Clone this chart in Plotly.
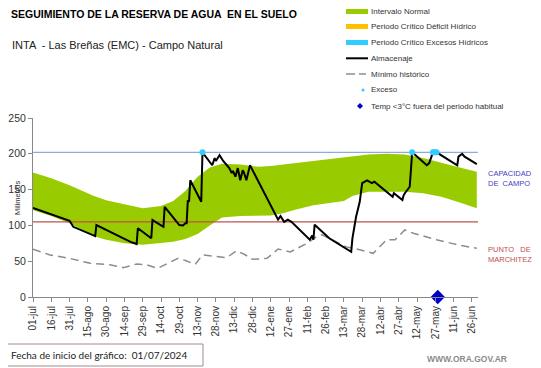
import pandas as pd
import plotly.graph_objects as go

# ---------------- DATA ----------------
fecha_inicio = "2024-07-01"

# Intervalo normal (banda verde): dias desde el inicio, limite superior e inferior (mm)
banda_dias = [0, 15, 30, 45, 50, 60, 75, 90, 105, 115, 125, 135, 145, 155, 170, 185, 195,
              205, 215, 230, 245, 255, 262, 275, 290, 305, 320, 335, 350, 364]
banda_sup = [174, 166, 156, 144, 141, 135, 129, 124, 127, 134, 148, 168, 181, 186, 185, 182, 183,
             185, 187, 190, 194, 196, 197, 199, 200, 199, 194, 187, 181, 175]
banda_inf = [121, 113, 103, 89, 85, 80, 75, 73, 75, 77, 81, 88, 100, 111, 113, 113, 114,
             117, 122, 128, 131, 134, 141, 147, 147, 147, 145, 140, 132, 124]

# Almacenaje (mm)
alm_dias = [0, 30, 33, 51, 52, 80, 85, 86, 97, 98, 107, 108, 120, 123, 125, 126, 127, 128, 129,
            138, 139, 144, 147, 149, 150, 153, 156, 159, 161, 163, 164, 166, 168, 170, 172, 173,
            175, 178, 201, 203, 206, 209, 212, 227, 229, 230, 231, 243, 261, 262, 265, 268, 270,
            274, 278, 280, 295, 296, 303, 304, 305, 309, 311, 323, 325, 328, 331, 348, 349,
            352, 354, 364]
alm_val = [124.5, 106.5, 98, 85, 100.5, 77, 74, 96, 82, 107.5, 98, 126, 100.5, 100, 103, 103, 135, 133, 163,
           133, 202, 191, 184, 194, 190, 198, 190, 184, 180, 173, 176, 168, 180, 163, 177, 174,
           163, 184, 108, 113, 105, 108, 105, 80, 86, 80, 101, 82, 63, 82, 112, 133, 159,
           163, 159, 161, 140, 145, 135.5, 142, 145, 154, 202, 184, 187, 202, 202, 184, 196,
           200, 196, 185.5]

# Minimo historico (mm)
min_dias = [0, 14, 30, 47, 63, 74, 85, 93, 102, 119, 125, 133, 139, 151, 159, 167, 174, 180,
            192, 201, 211, 225, 233, 237, 245, 257, 268, 279, 290, 297, 305, 312, 331, 348, 364]
min_val = [66.6, 58.7, 54, 47, 45, 41, 46, 45, 40, 54, 51, 45.5, 58.7, 57, 55, 64.7, 59, 52.6,
           54, 67, 63, 75, 85, 87, 80, 70, 66, 61, 80, 80, 93.6, 89, 80, 73, 68]

# Excesos (puntos celestes) y temperatura < 3 C fuera del periodo habitual
exceso_dias = [139, 311, 328, 329, 330, 331]
exceso_val = [202, 202, 202, 202, 202, 202]
temp_dias = [332]
temp_val = [0]

capacidad_campo = 202
punto_marchitez = 105

tick_dias = list(range(0, 361, 15))
tick_textos = ["01-jul", "16-jul", "31-jul", "15-ago", "30-ago", "14-sep", "29-sep", "14-oct",
               "29-oct", "13-nov", "28-nov", "13-dic", "28-dic", "12-ene", "27-ene", "11-feb",
               "26-feb", "13-mar", "28-mar", "12-abr", "27-abr", "12-may", "27-may", "11-jun",
               "26-jun"]

# ---------------- HELPERS ----------------
t0 = pd.Timestamp(fecha_inicio)
def fechas(d):
    return [t0 + pd.Timedelta(days=int(x)) for x in d]

# page offset (body margin) of 8 px
OFF = 8
W, H = 541 - OFF, 368 - OFF
PL, PT, PR, PB = 33, 118, 478, 297          # plot area in page pixels
L, T, R, B = PL - OFF, PT - OFF, 541 - PR, 368 - PB
PW, PH = PR - PL, PB - PT
def px(x):
    return (x - PL) / PW
def py(y):
    return (PB - y) / PH

x_ini = t0
x_fin = t0 + pd.Timedelta(days=365)

VERDE = "#99CC00"
CELESTE = "#33CCFF"
NARANJA = "#FFC000"
GRIS = "#8C8C8C"

fig = go.Figure()

# Banda verde
fig.add_trace(go.Scatter(x=fechas(banda_dias), y=banda_inf, mode="lines",
                         line=dict(width=0, color=VERDE), showlegend=False, hoverinfo="skip"))
fig.add_trace(go.Scatter(x=fechas(banda_dias), y=banda_sup, mode="lines", fill="tonexty",
                         fillcolor=VERDE, line=dict(width=0, color=VERDE), showlegend=False))

# Capacidad de campo y punto de marchitez
fig.add_trace(go.Scatter(x=[x_ini, x_fin], y=[capacidad_campo] * 2, mode="lines",
                         line=dict(color="#8EA9DB", width=1.2), showlegend=False))
fig.add_trace(go.Scatter(x=[x_ini, x_fin], y=[punto_marchitez] * 2, mode="lines",
                         line=dict(color="#C0504D", width=1.2), showlegend=False))

# Minimo historico
fig.add_trace(go.Scatter(x=fechas(min_dias), y=min_val, mode="lines",
                         line=dict(color=GRIS, width=1.5, dash="8px,5px"), showlegend=False))

# Almacenaje
fig.add_trace(go.Scatter(x=fechas(alm_dias), y=alm_val, mode="lines",
                         line=dict(color="black", width=2), showlegend=False))

# Excesos
fig.add_trace(go.Scatter(x=fechas(exceso_dias), y=exceso_val, mode="markers",
                         marker=dict(color=CELESTE, size=6), showlegend=False))

# Temperatura
fig.add_trace(go.Scatter(x=fechas(temp_dias), y=temp_val, mode="markers", cliponaxis=False,
                         marker=dict(color="#0000CC", size=11, symbol="diamond"), showlegend=False))

# ---------------- LEGEND (manual) ----------------
shapes = []
ann = []
leg_x0, leg_x1, leg_tx = 346, 368, 369
rows = [11.5, 26.5, 42.5, 58.3, 74, 90, 106]
labels = ["Intervalo Normal", "Periodo Crítico Déficit Hídrico", "Periodo Crítico Excesos Hídricos",
          "Almacenaje", "Mínimo histórico", "Exceso", "Temp <3°C fuera del periodo habitual"]
for i, (color, width) in enumerate([(VERDE, 5), (NARANJA, 5), (CELESTE, 5), ("black", 2)]):
    shapes.append(dict(type="line", xref="paper", yref="paper", x0=px(leg_x0), x1=px(leg_x1),
                       y0=py(rows[i]), y1=py(rows[i]), line=dict(color=color, width=width)))
shapes.append(dict(type="line", xref="paper", yref="paper", x0=px(346), x1=px(355),
                   y0=py(rows[4]), y1=py(rows[4]), line=dict(color=GRIS, width=1.5)))
shapes.append(dict(type="line", xref="paper", yref="paper", x0=px(359), x1=px(366),
                   y0=py(rows[4]), y1=py(rows[4]), line=dict(color=GRIS, width=1.5)))
shapes.append(dict(type="circle", xref="paper", yref="paper", x0=px(361.5), x1=px(364.5),
                   y0=py(rows[5] + 1.5), y1=py(rows[5] - 1.5), line=dict(width=0), fillcolor=CELESTE))
shapes.append(dict(type="path", xref="paper", yref="paper",
                   path="M {} {} L {} {} L {} {} L {} {} Z".format(
                       px(360), py(rows[6] - 3), px(363), py(rows[6]),
                       px(360), py(rows[6] + 3), px(357), py(rows[6])),
                   line=dict(width=0), fillcolor="#0000CC"))
for i, lab in enumerate(labels):
    ann.append(dict(text=lab, xref="paper", yref="paper", x=px(leg_tx), y=py(rows[i]),
                    xanchor="left", yanchor="middle", showarrow=False,
                    font=dict(family="Arial", size=8, color="#333333")))

# Titles
ann.append(dict(text="<b>SEGUIMIENTO DE LA RESERVA DE AGUA  EN EL SUELO</b>", xref="paper", yref="paper",
                x=px(9), y=py(14), xanchor="left", yanchor="middle", showarrow=False,
                font=dict(family="Arial", size=10.5, color="#000000")))
ann.append(dict(text="INTA  - Las Breñas (EMC) - Campo Natural", xref="paper", yref="paper",
                x=px(10), y=py(45), xanchor="left", yanchor="middle", showarrow=False,
                font=dict(family="Arial", size=11, color="#222222")))

# Right-side labels
ann.append(dict(text="CAPACIDAD<br>DE  CAMPO", xref="paper", yref="paper", x=px(486), y=py(178),
                xanchor="left", yanchor="middle", align="left", showarrow=False,
                font=dict(family="Arial", size=7.5, color="#3F3FBF")))
ann.append(dict(text="PUNTO   DE<br>MARCHITEZ", xref="paper", yref="paper", x=px(486), y=py(254),
                xanchor="left", yanchor="middle", align="left", showarrow=False,
                font=dict(family="Arial", size=7.5, color="#C0504D")))

# Footer
shapes.append(dict(type="rect", xref="paper", yref="paper", x0=px(3), x1=px(203),
                   y0=py(344), y1=py(366), line=dict(color="#A08C8C", width=1)))
ann.append(dict(text="Fecha de inicio del gráfico:  01/07/2024", xref="paper", yref="paper",
                x=px(9), y=py(355), xanchor="left", yanchor="middle", showarrow=False,
                font=dict(family="Lato", size=10, color="#222222")))
ann.append(dict(text="<b>WWW.ORA.GOV.AR</b>", xref="paper", yref="paper",
                x=px(425), y=py(359), xanchor="left", yanchor="middle", showarrow=False,
                font=dict(family="Arial", size=8.5, color="#8C8C8C")))

# Y axis title
ann.append(dict(text="Milimetros", xref="paper", yref="paper", x=px(17), y=py(198),
                xanchor="center", yanchor="middle", textangle=-90, showarrow=False,
                font=dict(family="Arial", size=7.5, color="#333333")))

fig.update_layout(
    width=W, height=H, margin=dict(l=L, r=R, t=T, b=B, autoexpand=False),
    paper_bgcolor="white", plot_bgcolor="white", showlegend=False,
    shapes=shapes, annotations=ann,
    xaxis=dict(type="date", range=[x_ini, x_fin], tickvals=fechas(tick_dias), ticktext=tick_textos,
               tickangle=-90, tickfont=dict(family="Arial", size=10, color="#333333"),
               showgrid=False, zeroline=False, showline=True, linecolor="#888888", linewidth=1,
               ticks="outside", ticklen=4, tickcolor="#888888"),
    yaxis=dict(range=[0, 250], tickvals=[0, 50, 100, 150, 200, 250],
               tickfont=dict(family="Arial", size=10.5, color="#333333"),
               showgrid=False, zeroline=False, showline=True, linecolor="#888888", linewidth=1,
               ticks="outside", ticklen=4, tickcolor="#888888"),
)

fig.write_html("out.html")
